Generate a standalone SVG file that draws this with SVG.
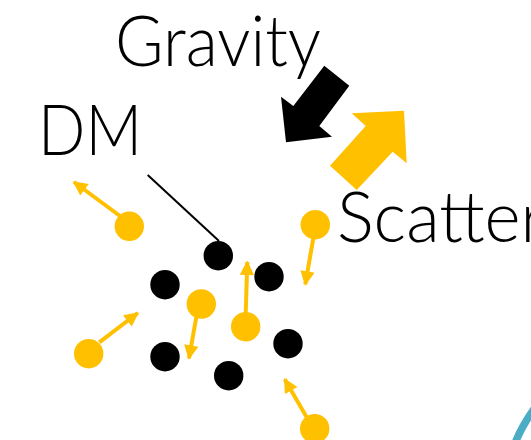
<svg xmlns="http://www.w3.org/2000/svg" width="531" height="440" viewBox="0 0 531 440">
<defs>
<style>
.lbl{font-family:Lato,"Open Sans","Liberation Sans",sans-serif;font-weight:300;font-size:70px;fill:#000}
.dm{fill:#000}
.sm{fill:#FFC000}
.ar{stroke:#FFC000;stroke-width:4;fill:none;marker-end:url(#ah)}
</style>
<marker id="ah" viewBox="0 0 10 10" refX="9" refY="5" markerWidth="4" markerHeight="3.6" orient="auto" markerUnits="strokeWidth">
<path d="M0,0 L10,5 L0,10 z" fill="#FFC000"/>
</marker>
</defs>
<rect width="531" height="440" fill="#fff"/>
<g id="label-gravity"><text class="lbl" x="115" y="66" textLength="206" lengthAdjust="spacingAndGlyphs">Gravity</text></g>
<g id="label-dm"><text class="lbl" x="38" y="155" textLength="104" lengthAdjust="spacingAndGlyphs">DM</text></g>
<g id="label-scatter"><text class="lbl" x="337" y="242" textLength="208" lengthAdjust="spacingAndGlyphs">Scatter</text></g>
<g id="arrow-gravity"><polygon points="324.3,65.7 349.3,85.7 319.3,126 332,136.7 286,142.3 281,96.7 293.3,106" fill="#000"/></g>
<g id="arrow-scatter"><polygon points="356.7,190 330,165.7 365.7,126 351.7,113.3 404,110.7 406.7,163.3 392.7,151.7" fill="#FFC000"/></g>
<g id="blue-arc"><path d="M515.5,442 Q522,426 534,409" stroke="#4BACC6" stroke-width="7.5" fill="none"/></g>
<g id="connectors">
<line x1="147.7" y1="175" x2="219" y2="241" stroke="#000" stroke-width="2"/>
<line class="ar" x1="120" y1="216" x2="74" y2="182"/>
<line class="ar" x1="313.5" y1="237" x2="305.3" y2="284.3"/>
<line class="ar" x1="196.5" y1="316" x2="189" y2="358.3"/>
<line class="ar" x1="245.7" y1="314" x2="247.3" y2="262"/>
<line class="ar" x1="99.3" y1="342.3" x2="137.7" y2="313"/>
<line class="ar" x1="306.7" y1="417.3" x2="284.7" y2="379.3"/>
</g>
<g id="dm-particles">
<circle class="dm" cx="218.3" cy="255.7" r="14.7"/>
<circle class="dm" cx="165" cy="284.7" r="14.7"/>
<circle class="dm" cx="269" cy="276.7" r="14.7"/>
<circle class="dm" cx="288" cy="343.7" r="14.7"/>
<circle class="dm" cx="165" cy="356.7" r="14.7"/>
<circle class="dm" cx="228.7" cy="375.7" r="14.7"/>
</g>
<g id="scattered-particles">
<circle class="sm" cx="129.3" cy="226.3" r="14.7"/>
<circle class="sm" cx="315.3" cy="224.7" r="14.7"/>
<circle class="sm" cx="201.3" cy="304" r="14.7"/>
<circle class="sm" cx="245.7" cy="326.7" r="14.7"/>
<circle class="sm" cx="88.7" cy="353.7" r="14.7"/>
<circle class="sm" cx="314.7" cy="428.7" r="14.7"/>
</g>
</svg>
